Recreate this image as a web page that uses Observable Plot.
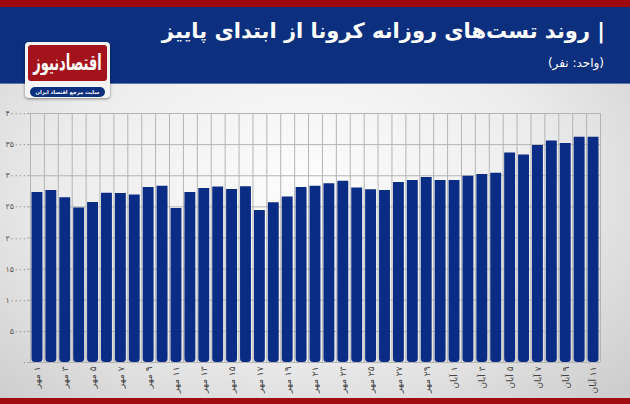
<!DOCTYPE html>
<html>
<head>
<meta charset="utf-8">
<script src="https://cdn.jsdelivr.net/npm/d3@7"></script>
<script src="https://cdn.jsdelivr.net/npm/@observablehq/plot@0.6"></script>
<style>
  html, body { margin: 0; padding: 0; }
  #wrap {
    position: relative; width: 630px; height: 404px; overflow: hidden;
    background: radial-gradient(ellipse 70% 75% at 48% 45%, #fdfdfd 0%, #ececec 55%, #cdcdcd 100%);
    font-family: "DejaVu Sans", sans-serif;
  }
  #topred { position: absolute; left: 0; top: 0; width: 630px; height: 7px; background: #9f0a10; }
  #navy { position: absolute; left: 0; top: 7px; width: 630px; height: 76px; background: #0c2f7e; border-bottom: 1px solid #5b74ad; }
  #botred { position: absolute; left: 0; top: 398px; width: 630px; height: 6px; background: #a00c12; }
  #title { position: absolute; right: 25px; top: 19px; color: #fff; font-weight: bold; font-size: 21px; line-height: 1.2; direction: rtl; white-space: nowrap; }
  #subtitle { position: absolute; right: 26px; top: 56px; color: #fff; font-size: 12px; line-height: 1.2; direction: rtl; white-space: nowrap; }
  #logo { position: absolute; left: 25px; top: 42px; width: 85px; height: 56px; background: #f4f4f4; border-radius: 4px; box-shadow: 0 1px 3px rgba(0,0,0,0.45); }
  #logored { position: absolute; left: 3px; top: 3px; width: 79px; height: 36px; background: #a3131b; border-radius: 3px; color: #fff; font-weight: bold; font-size: 13px; text-align: center; line-height: 36px; direction: rtl; white-space: nowrap; }
  #logored span { display: inline-block; transform: scaleY(1.7); }
  #logopill { position: absolute; left: 5px; top: 45px; width: 75px; height: 10px; background: #0c2f7e; border-radius: 5px; color: #fff; font-weight: bold; font-size: 5.2px; text-align: center; line-height: 10px; direction: rtl; white-space: nowrap; }
  #chart { position: absolute; left: 0; top: 100px; }
</style>
</head>
<body>
<div id="wrap">
  <div id="topred"></div>
  <div id="navy"></div>
  <div id="title">| روند تست‌های روزانه کرونا از ابتدای پاییز</div>
  <div id="subtitle">(واحد: نفر)</div>
  <div id="logo">
    <div id="logored"><span>اقتصادنیوز</span></div>
    <div id="logopill">سایت مرجع اقتصاد ایران</div>
  </div>
  <div id="chart"></div>
  <div id="botred"></div>
</div>
<script>
const dayLabels = [
  "۱ مهر","۲ مهر","۳ مهر","۴ مهر","۵ مهر","۶ مهر","۷ مهر","۸ مهر","۹ مهر","۱۰ مهر",
  "۱۱ مهر","۱۲ مهر","۱۳ مهر","۱۴ مهر","۱۵ مهر","۱۶ مهر","۱۷ مهر","۱۸ مهر","۱۹ مهر","۲۰ مهر",
  "۲۱ مهر","۲۲ مهر","۲۳ مهر","۲۴ مهر","۲۵ مهر","۲۶ مهر","۲۷ مهر","۲۸ مهر","۲۹ مهر","۳۰ مهر",
  "۱ آبان","۲ آبان","۳ آبان","۴ آبان","۵ آبان","۶ آبان","۷ آبان","۸ آبان","۹ آبان","۱۰ آبان","۱۱ آبان"
];
const dailyTests = [
  27300, 27650, 26450, 24800, 25700, 27200, 27150, 26900, 28100, 28300,
  24750, 27300, 27950, 28200, 27800, 28250, 24400, 25650, 26600, 28100,
  28300, 28700, 29100, 28050, 27750, 27650, 28900, 29250, 29700, 29250,
  29250, 29900, 30200, 30400, 33650, 33350, 34850, 35600, 35200, 36200, 36200
];
const yTicks = [0, 5000, 10000, 15000, 20000, 25000, 30000, 35000, 40000];

const fa = s => String(s).replace(/\d/g, c => "۰۱۲۳۴۵۶۷۸۹"[c]);
const data = dailyTests.map((v, i) => ({i, j: i + 1, v, label: dayLabels[i]}));
const bounds = d3.range(dayLabels.length + 1);
const labelPos = data.filter(d => d.i % 2 === 0).map(d => d.i + 0.5);

const chart = Plot.plot({
  width: 630,
  height: 298,
  marginLeft: 30,
  marginRight: 30,
  marginTop: 13,
  marginBottom: 36,
  style: {background: "transparent", fontFamily: "DejaVu Sans, sans-serif"},
  x: {type: "linear", domain: [0, dayLabels.length], axis: null},
  y: {domain: [0, 40000], axis: null},
  marks: [
    Plot.gridY(yTicks, {stroke: "#b4b4b4", strokeOpacity: 1}),
    Plot.gridX(bounds, {stroke: "#b4b4b4", strokeOpacity: 1}),
    Plot.rectY(data, {x1: "i", x2: "j", y: "v", fill: "#0b2c84", insetLeft: 1.5, insetRight: 1.5, ry1: 3.5}),
    Plot.axisY(yTicks, {label: null, tickSize: 3, tickPadding: 1, tickFormat: fa, fontSize: 7.8, stroke: "#aaa", fill: "#555"}),
    Plot.axisX(labelPos, {label: null, tickSize: 0, tickPadding: 4, tickRotate: -90, textAnchor: "end",
      tickFormat: p => "\u2067" + dayLabels[Math.floor(p)] + "\u2069", fontSize: 9, fill: "#444"})
  ]
});
document.getElementById("chart").appendChild(chart);
</script>
</body>
</html>
